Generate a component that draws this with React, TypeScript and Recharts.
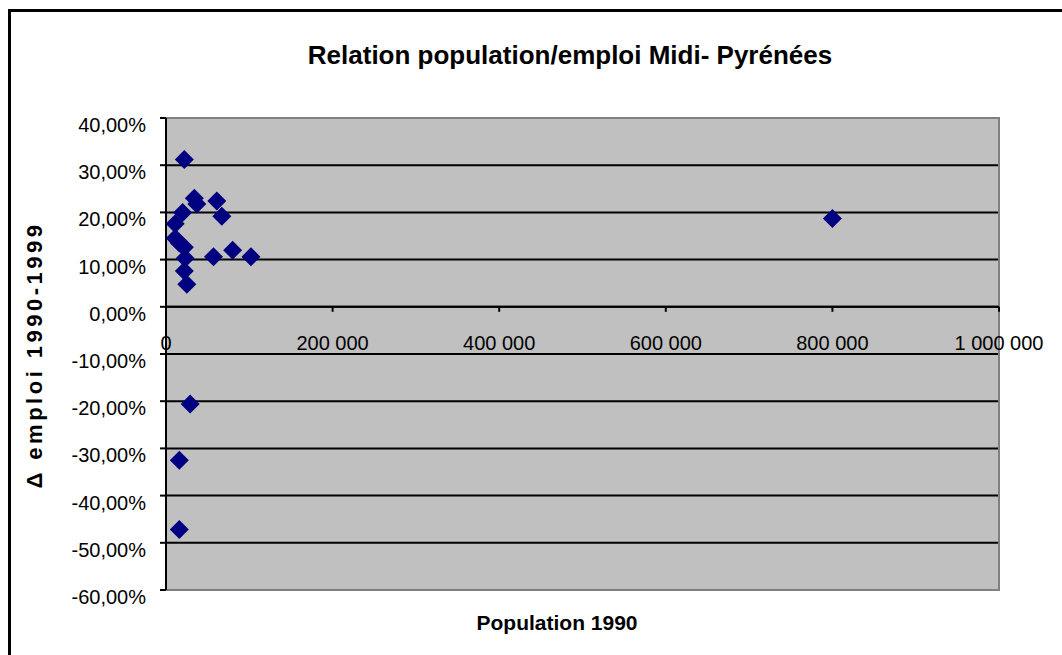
import { ScatterChart, Scatter, XAxis, YAxis, CartesianGrid, ReferenceLine, ReferenceDot, ReferenceArea } from 'recharts';

// population 1990 of each town, and employment change 1990-1999 (fraction)
const population = [
  22000, 34000, 37000, 61000, 67000, 20000, 11000, 11000, 16000, 22000,
  23000, 22000, 25000, 57000, 80000, 102000, 800000, 29000, 16000, 16000,
];
const emploiChange = [
  0.312, 0.230, 0.218, 0.224, 0.192, 0.200, 0.176, 0.145, 0.135, 0.126,
  0.103, 0.076, 0.048, 0.106, 0.120, 0.106, 0.187, -0.206, -0.325, -0.472,
];

const yTicks = [-0.6, -0.5, -0.4, -0.3, -0.2, -0.1, 0, 0.1, 0.2, 0.3, 0.4];
const xTicks = [0, 200000, 400000, 600000, 800000, 1000000];
const xTickLabels = ['0', '200 000', '400 000', '600 000', '800 000', '1 000 000'];

const FONT = '"Liberation Sans", Arial, sans-serif';
const points = population.map((x, i) => ({ x, y: emploiChange[i] }));

const pct = (v: number) => `${(v * 100).toFixed(2).replace('.', ',')}%`;

function YTick({ x, y, payload }: any) {
  return (
    <text x={x} y={y + 7} textAnchor="end" dominantBaseline="central" fontSize={20} fontFamily={FONT} fill="#000">
      {pct(payload.value)}
    </text>
  );
}

function Diamond({ cx, cy }: any) {
  const h = 9.5;
  return <polygon points={`${cx},${cy - h} ${cx + h},${cy} ${cx},${cy + h} ${cx - h},${cy}`} fill="#000080" />;
}

function xTickShape(label: string) {
  return ({ cx, cy }: any) => (
    <g>
      <line x1={cx} y1={cy} x2={cx} y2={cy + 5} stroke="#000" strokeWidth={2} />
      <text x={cx} y={cy + 36} textAnchor="middle" dominantBaseline="central" fontSize={20} fontFamily={FONT} fill="#000">
        {label}
      </text>
    </g>
  );
}

export default function App() {
  return (
    <div style={{ position: 'absolute', left: 0, top: 0, width: 1062, height: 655, overflow: 'hidden', background: '#fff' }}>
      <div style={{ position: 'absolute', left: 8, top: 9, width: 1200, height: 800, borderLeft: '3px solid #000', borderTop: '3px solid #000' }} />
      <div style={{ position: 'absolute', left: 0, top: 0 }}>
        <ScatterChart width={1062} height={655} margin={{ top: 118, right: 63, bottom: 65, left: 0 }}>
          <CartesianGrid vertical={false} stroke="#000" strokeWidth={2} fill="#c0c0c0" fillOpacity={1} />
          <XAxis type="number" dataKey="x" domain={[0, 1000000]} ticks={xTicks} hide />
          <YAxis
            type="number"
            dataKey="y"
            domain={[-0.6, 0.4]}
            ticks={yTicks}
            width={166}
            axisLine={{ stroke: '#000', strokeWidth: 2 }}
            tickLine={{ stroke: '#000', strokeWidth: 2 }}
            tickSize={6}
            tickMargin={14}
            tick={<YTick />}
            interval={0}
          />
          <ReferenceArea x1={0} x2={1000000} y1={-0.6} y2={0.4} fill="none" stroke="#808080" strokeWidth={2} />
          <ReferenceLine y={0} stroke="#000" strokeWidth={2} />
          {xTicks.map((t, i) => (
            <ReferenceDot key={t} x={t} y={0} r={1} shape={xTickShape(xTickLabels[i])} />
          ))}
          <Scatter data={points} shape={<Diamond />} isAnimationActive={false} />
        </ScatterChart>
      </div>
      <div style={{ position: 'absolute', left: 0, width: 1140, top: 40, textAlign: 'center', fontFamily: FONT, fontWeight: 'bold', fontSize: 26, lineHeight: '30px' }}>
        Relation population/emploi Midi- Pyrénées
      </div>
      <div style={{ position: 'absolute', left: 0, width: 1114, top: 610, textAlign: 'center', fontFamily: FONT, fontWeight: 'bold', fontSize: 21, lineHeight: '26px' }}>
        Population 1990
      </div>
      <div
        style={{
          position: 'absolute', left: 35, top: 355, transform: 'translate(-50%, -50%) rotate(-90deg)', whiteSpace: 'nowrap',
          fontFamily: FONT, fontWeight: 'bold', fontSize: 22, letterSpacing: 3.5, lineHeight: '24px',
        }}
      >
        Δ emploi 1990-1999
      </div>
    </div>
  );
}
